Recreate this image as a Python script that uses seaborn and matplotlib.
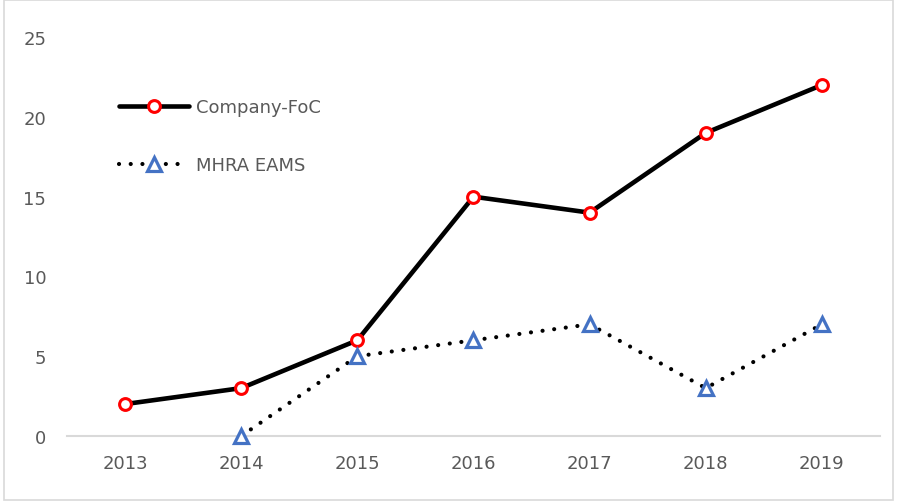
import numpy as np
import pandas as pd
import seaborn as sns
import matplotlib.pyplot as plt
from matplotlib.patches import Rectangle

years = [2013, 2014, 2015, 2016, 2017, 2018, 2019]
company_foc = [2, 3, 6, 15, 14, 19, 22]
mhra_eams = [np.nan, 0, 5, 6, 7, 3, 7]

df = pd.DataFrame({"Year": years, "Company-FoC": company_foc, "MHRA EAMS": mhra_eams})

sns.set_theme(style="white")
plt.rcParams["font.family"] = ["DejaVu Sans"]

fig = plt.figure(figsize=(8.97, 5.02), dpi=100)
ax = fig.add_axes([0.0747, 0.1295, 0.9063, 0.7945])

sns.lineplot(data=df, x="Year", y="Company-FoC", ax=ax, color="black", linewidth=3.3,
             marker="o", markersize=8.5, markerfacecolor="white", markeredgecolor="#ff0000",
             markeredgewidth=2.2, label="Company-FoC", clip_on=False)
sns.lineplot(data=df.dropna(), x="Year", y="MHRA EAMS", ax=ax, color="black", linewidth=3.0,
             linestyle=(0, (0.01, 2.8)), dash_capstyle="round",
             marker="^", markersize=10.5, markerfacecolor="white", markeredgecolor="#4472c4",
             markeredgewidth=2.3, label="MHRA EAMS", clip_on=False)

ax.set_xlim(2012.5, 2019.5)
ax.set_ylim(0, 25)
ax.set_yticks([0, 5, 10, 15, 20, 25])
ax.set_xticks(years)
ax.set_xlabel("")
ax.set_ylabel("")
for s in ["top", "right", "left"]:
    ax.spines[s].set_visible(False)
ax.spines["bottom"].set_color("#d9d9d9")
ax.spines["bottom"].set_linewidth(1.5)
ax.spines["bottom"].set_zorder(0)
ax.tick_params(axis="both", length=0, labelsize=13, labelcolor="#595959")
ax.tick_params(axis="y", pad=15)
ax.tick_params(axis="x", pad=13)
ax.grid(False)

leg = ax.legend(loc="upper left", bbox_to_anchor=(0.055, 0.865), frameon=False,
                fontsize=13, handlelength=3.9, labelspacing=2.2, handletextpad=0.35,
                borderaxespad=0)
for t in leg.get_texts():
    t.set_color("#595959")

fig.patches.append(Rectangle((0.004, 0.002), 0.992, 0.996, transform=fig.transFigure,
                             fill=False, edgecolor="#d9d9d9", linewidth=1.2))

fig.savefig("out.png", dpi=100)
